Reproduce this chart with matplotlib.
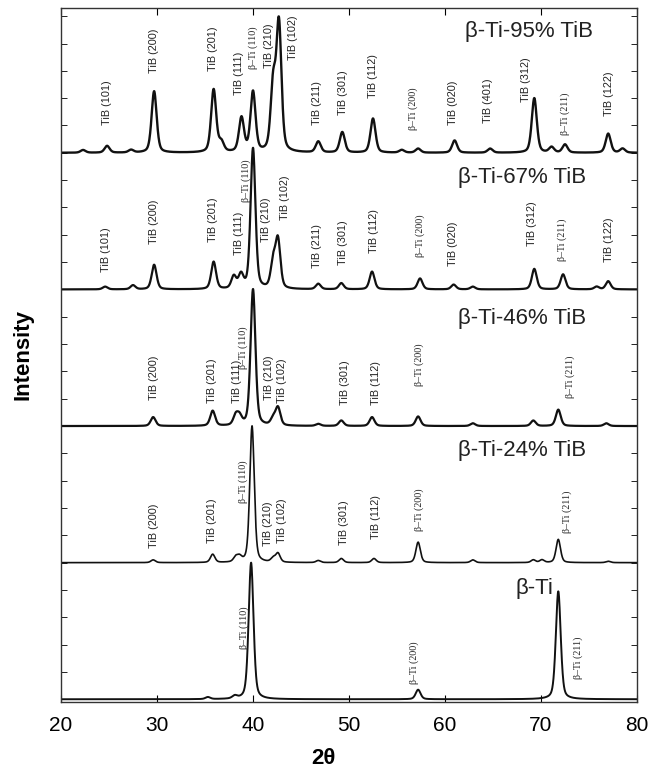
import numpy as np
import matplotlib
matplotlib.use('Agg')
import matplotlib.pyplot as plt

# peak lists: 2theta position and height (1.0 = spacing between patterns)
pk_95_pos = [22.3, 24.8, 27.3, 29.7, 35.9, 36.7, 38.8, 40.0, 42.1, 42.7, 46.8, 49.3, 52.5,
             55.5, 57.2, 61.0, 64.7, 69.3, 71.1, 72.5, 77.0, 78.5]
pk_95_int = [0.02, 0.05, 0.02, 0.45, 0.46, 0.07, 0.25, 0.44, 0.48, 0.93, 0.08, 0.15, 0.25,
             0.02, 0.03, 0.09, 0.03, 0.40, 0.04, 0.06, 0.14, 0.03]

pk_67_pos = [24.6, 27.5, 29.7, 35.9, 38.0, 38.75, 40.0, 42.1, 42.6, 46.8, 49.2, 52.4, 57.4,
             60.9, 62.9, 69.3, 72.3, 75.8, 77.0]
pk_67_int = [0.02, 0.03, 0.18, 0.20, 0.09, 0.10, 1.03, 0.19, 0.35, 0.04, 0.045, 0.13, 0.08,
             0.035, 0.02, 0.15, 0.11, 0.02, 0.06]

pk_46_pos = [29.6, 35.8, 38.2, 38.6, 40.0, 42.1, 42.6, 46.8, 49.2, 52.4, 57.2, 62.9, 69.2, 71.8, 76.8]
pk_46_int = [0.065, 0.11, 0.07, 0.06, 1.0, 0.05, 0.13, 0.015, 0.04, 0.065, 0.07, 0.02, 0.04, 0.12, 0.02]

pk_24_pos = [29.6, 35.8, 38.2, 38.6, 39.9, 42.1, 42.6, 46.8, 49.2, 52.6, 57.2, 62.9, 69.2, 70.1, 71.8, 77.0]
pk_24_int = [0.02, 0.06, 0.035, 0.035, 1.0, 0.03, 0.065, 0.015, 0.03, 0.03, 0.15, 0.02, 0.02, 0.02, 0.17, 0.01]

pk_ti_pos = [35.3, 38.1, 39.8, 57.2, 71.8]
pk_ti_int = [0.015, 0.02, 1.0, 0.07, 0.79]

sample_names = ['β-Ti', 'β-Ti-24% TiB', 'β-Ti-46% TiB', 'β-Ti-67% TiB', 'β-Ti-95% TiB']

# peak labels: (text, 2theta, height of label foot above baseline)
lab_95 = [('TiB (101)', 24.8, 0.205), ('TiB (200)', 29.7, 0.586), ('TiB (201)', 35.8, 0.60),
          ('TiB (111)', 38.5, 0.425), ('β–Ti (110)', 40.0, 0.61), ('TiB (210)', 41.7, 0.62),
          ('TiB (102)', 44.2, 0.68), ('TiB (211)', 46.7, 0.20), ('TiB (301)', 49.4, 0.28),
          ('TiB (112)', 52.5, 0.40), ('β–Ti (200)', 56.7, 0.17), ('TiB (020)', 60.8, 0.205),
          ('TiB (401)', 64.5, 0.22), ('TiB (312)', 68.4, 0.37), ('β–Ti (211)', 72.5, 0.13),
          ('TiB (122)', 77.1, 0.27)]
lab_67 = [('TiB (101)', 24.7, 0.125), ('TiB (200)', 29.7, 0.33), ('TiB (201)', 35.8, 0.345),
          ('TiB (111)', 38.5, 0.25), ('β–Ti (110)', 39.3, 0.64), ('TiB (210)', 41.4, 0.345),
          ('TiB (102)', 43.3, 0.51), ('TiB (211)', 46.7, 0.16), ('TiB (301)', 49.4, 0.18),
          ('TiB (112)', 52.6, 0.27), ('β–Ti (200)', 57.4, 0.235), ('TiB (020)', 60.8, 0.175),
          ('TiB (312)', 69.1, 0.32), ('β–Ti (211)', 72.2, 0.21), ('TiB (122)', 77.1, 0.20)]
lab_46 = [('TiB (200)', 29.7, 0.19), ('TiB (201)', 35.7, 0.17), ('TiB (111)', 38.3, 0.17),
          ('β–Ti (110)', 39.0, 0.42), ('TiB (210)', 41.7, 0.19), ('TiB (102)', 43.0, 0.17),
          ('TiB (301)', 49.6, 0.155), ('TiB (112)', 52.8, 0.155), ('β–Ti (200)', 57.3, 0.29),
          ('β–Ti (211)', 73.0, 0.205)]
lab_24 = [('TiB (200)', 29.7, 0.11), ('TiB (201)', 35.7, 0.146), ('β–Ti (110)', 39.0, 0.44),
          ('TiB (210)', 41.6, 0.125), ('TiB (102)', 43.0, 0.146), ('TiB (301)', 49.5, 0.13),
          ('TiB (112)', 52.8, 0.17), ('β–Ti (200)', 57.3, 0.23), ('β–Ti (211)', 72.7, 0.22)]
lab_ti = [('β–Ti (110)', 39.1, 0.37), ('β–Ti (200)', 56.8, 0.11), ('β–Ti (211)', 73.9, 0.15)]

samples = [(pk_ti_pos, pk_ti_int, lab_ti, 0.6, 1.4),
           (pk_24_pos, pk_24_int, lab_24, 0.55, 1.2),
           (pk_46_pos, pk_46_int, lab_46, 0.6, 1.6),
           (pk_67_pos, pk_67_int, lab_67, 0.6, 1.6),
           (pk_95_pos, pk_95_int, lab_95, 0.62, 1.7)]
name_pos = [(67.3, 0.81), (61.4, 0.82), (61.4, 0.79), (61.4, 0.82), (62.1, 0.89)]


def pattern(x, pos, amp, fwhm, eta=0.4):
    y = np.zeros_like(x)
    for p, a in zip(pos, amp):
        d = (x - p) / (fwhm / 2)
        y += a * ((1 - eta) * np.exp(-np.log(2) * d ** 2) + eta / (1 + d ** 2))
    return y


x = np.linspace(20, 80, 3000)
base = 0.02

fig = plt.figure(figsize=(6.48, 7.75), dpi=100)
ax = fig.add_axes([61 / 648, 73 / 775, 576 / 648, 694 / 775])

for i, (pos, amp, labs, w, lw) in enumerate(samples):
    off = i + base
    ax.plot(x, off + pattern(x, pos, amp, w), color='#111111', lw=lw)
    for txt, xx, hh in labs:
        if txt.startswith('β'):
            ax.text(xx, off + hh, txt, rotation=90, ha='center', va='bottom',
                    fontsize=7.2, family='Liberation Serif', color='#222222')
        else:
            ax.text(xx, off + hh, txt, rotation=90, ha='center', va='bottom',
                    fontsize=7.8, family='Liberation Sans', color='#222222')
    ax.text(name_pos[i][0], off + name_pos[i][1], sample_names[i], ha='left', va='center',
            fontsize=16, family='Liberation Sans', color='#222222')

ax.set_xlim(20, 80)
ax.set_ylim(0, 5.08)
ax.set_xticks([20, 30, 40, 50, 60, 70, 80])
ax.set_yticks(np.arange(base, 5.08, 0.2))
ax.set_yticklabels([])
ax.tick_params(axis='x', direction='in', top=True, length=5, labelsize=15, pad=10)
ax.tick_params(axis='y', direction='in', right=True, length=4, width=0.6)
for lab in ax.get_xticklabels():
    lab.set_family('Liberation Sans')
for s in ax.spines.values():
    s.set_linewidth(1.0)
    s.set_color('#333333')

ax.set_xlabel('2θ', fontsize=16, fontweight='bold', family='Liberation Sans')
ax.xaxis.set_label_coords(0.455, -0.066)
ax.set_ylabel('Intensity', fontsize=16, fontweight='bold', family='Liberation Sans')
ax.yaxis.set_label_coords(-0.048, 0.5)

fig.savefig('out.png', dpi=100)
